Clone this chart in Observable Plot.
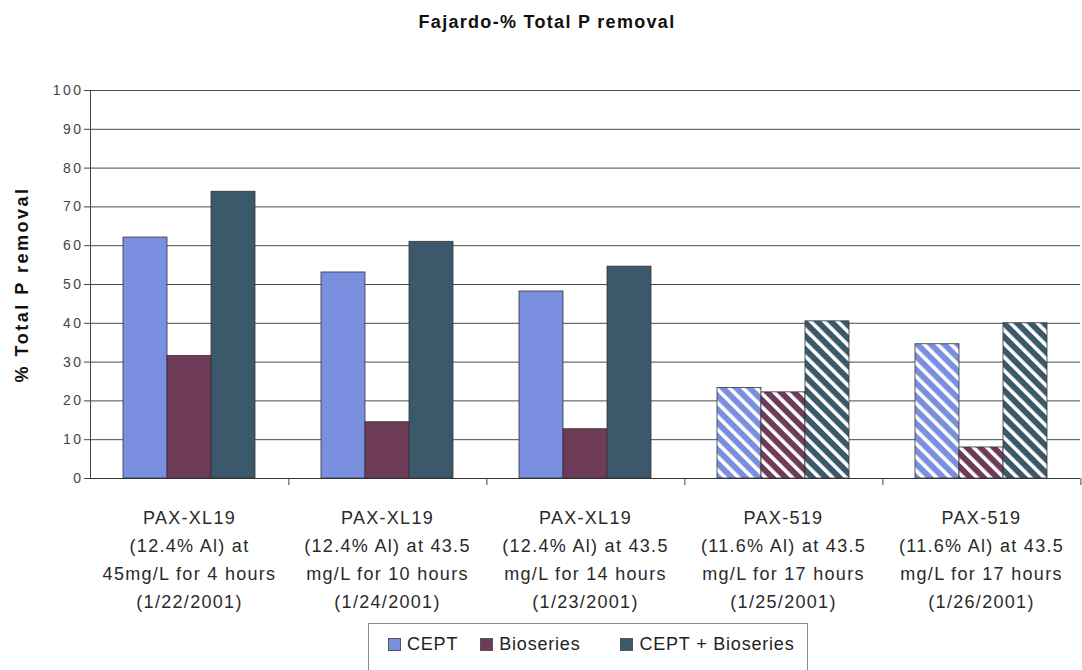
<!DOCTYPE html>
<html>
<head>
<meta charset="utf-8">
<script src="https://cdn.jsdelivr.net/npm/d3@7"></script>
<script src="https://cdn.jsdelivr.net/npm/@observablehq/plot@0.6"></script>
<style>
  body { margin: 0; background: #fff; font-family: "Liberation Sans", Arial, sans-serif; }
  #wrap { position: relative; width: 1082px; height: 670px; overflow: hidden; }
  #title { height: 42px; box-sizing: border-box; padding-top: 11px; padding-left: 12px; line-height: 22px;
           font-size: 18px; font-weight: bold; letter-spacing: 1.3px; text-align: center; color: #111; }
  #legend { position: absolute; left: 368px; top: 623px; width: 440px; height: 50px; box-sizing: border-box;
            border: 1px solid #8c8c8c; display: flex; align-items: flex-start; padding: 8px 0 0 19px;
            font-size: 18px; letter-spacing: 0.8px; color: #222; line-height: 24px; }
  #legend .item { display: flex; align-items: center; }
  #legend .sw { width: 13px; height: 13px; border: 1px solid #555; margin-right: 6px; box-sizing: border-box; }
  svg [aria-label="y-axis label"] text { font-weight: bold; font-size: 18px; letter-spacing: 2.5px; fill: #111; }
  svg [aria-label="y-axis tick label"] { letter-spacing: 2.5px; fill: #444; }
  svg [aria-label="fx-axis tick label"] { letter-spacing: 1.3px; fill: #2a2a2a; }
</style>
</head>
<body>
<div id="wrap">
  <div id="title">Fajardo-% Total P removal</div>
  <div id="chart"></div>
  <div id="legend"></div>
</div>
<script>
// ---- data ----
const groups = [
  "PAX-XL19\n(12.4% Al) at\n45mg/L for 4 hours\n(1/22/2001)",
  "PAX-XL19\n(12.4% Al) at 43.5\nmg/L for 10 hours\n(1/24/2001)",
  "PAX-XL19\n(12.4% Al) at 43.5\nmg/L for 14 hours\n(1/23/2001)",
  "PAX-519\n(11.6% Al) at 43.5\nmg/L for 17 hours\n(1/25/2001)",
  "PAX-519\n(11.6% Al) at 43.5\nmg/L for 17 hours\n(1/26/2001)"
];
const series = ["CEPT", "Bioseries", "CEPT + Bioseries"];
const cept = [62.1, 53.1, 48.2, 23.3, 34.6];
const bioseries = [31.6, 14.5, 12.7, 22.2, 8.0];
const ceptBioseries = [73.9, 61.0, 54.6, 40.5, 40.0];
const hatchedGroups = [3, 4]; // PAX-519 runs drawn with diagonal hatching
const yTicks = [0, 10, 20, 30, 40, 50, 60, 70, 80, 90, 100];
const seriesColors = ["#7b8fe0", "#6e3b58", "#3c596c"];

const values = [cept, bioseries, ceptBioseries];
const data = groups.flatMap((g, i) => series.map((s, j) => ({
  group: g, series: s, value: values[j][i], hatched: hatchedGroups.includes(i), si: j
})));

// ---- hatch patterns ----
const defsSvg = d3.select("body").append("svg")
  .attr("width", 0).attr("height", 0).style("position", "absolute");
const defs = defsSvg.append("defs");
seriesColors.forEach((c, i) => {
  const p = defs.append("pattern").attr("id", "hatch" + i)
    .attr("patternUnits", "userSpaceOnUse").attr("width", 9.5).attr("height", 9.5)
    .attr("patternTransform", "rotate(-45)");
  p.append("rect").attr("width", 9.5).attr("height", 9.5).attr("fill", c);
  p.append("rect").attr("width", 3.6).attr("height", 9.5).attr("fill", "#fff");
});

// ---- chart ----
const W = 1082, H = 578, ML = 88, MR = 0, MT = 48, MB = 142;
const step = (W - ML - MR) / groups.length;

const chart = Plot.plot({
  width: W, height: H,
  marginLeft: ML, marginRight: MR, marginTop: MT, marginBottom: MB,
  style: { fontFamily: "Liberation Sans, Arial, sans-serif", background: "white", overflow: "visible", color: "#222" },
  fx: { domain: groups, padding: 0 },
  x: { domain: series, paddingInner: 0, paddingOuter: 0.7, axis: null },
  y: { domain: [0, 100] },
  color: { type: "identity" },
  marks: [
    Plot.gridY(yTicks.filter(t => t > 0), { stroke: "#4a4a4a", strokeOpacity: 1, strokeWidth: 1 }),
    Plot.barY(data, {
      fx: "group", x: "series", y: "value",
      fill: d => d.hatched ? `url(#hatch${d.si})` : seriesColors[d.si],
      stroke: "#333", strokeWidth: 0.8
    }),
    Plot.ruleY([0], { stroke: "#333", strokeWidth: 1 }),
    Plot.frame({ anchor: "left", facetAnchor: "left", stroke: "#444" }),
    Plot.axisY(yTicks, {
      tickSize: 6, tickPadding: 1, fontSize: 14, stroke: "#444",
      label: "% Total P removal", labelAnchor: "center", labelOffset: 75, labelArrow: "none"
    }),
    Plot.axisFx({ anchor: "bottom", tickSize: 0, tickPadding: 26, fontSize: 18, lineHeight: 1.55, label: null }),
    Plot.axisFx({ anchor: "bottom", tickSize: 7, tickFormat: () => "", dx: step / 2, label: null, stroke: "#444" })
  ]
});
document.getElementById("chart").appendChild(chart);

// ---- legend ----
const legend = d3.select("#legend");
const gaps = [0, 22, 40];
series.forEach((s, i) => {
  const it = legend.append("div").attr("class", "item").style("margin-left", gaps[i] + "px");
  it.append("div").attr("class", "sw").style("background", seriesColors[i]);
  it.append("span").text(s);
});
</script>
</body>
</html>
